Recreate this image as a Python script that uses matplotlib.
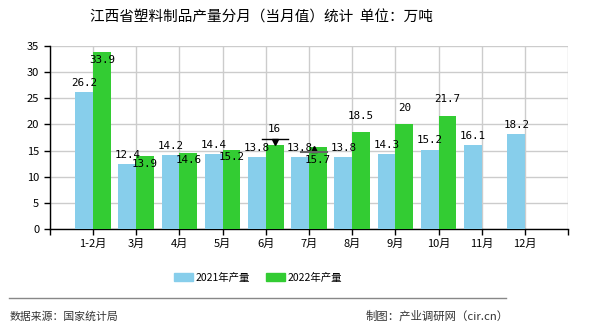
import matplotlib
matplotlib.use("Agg")
import matplotlib.pyplot as plt
from matplotlib.patches import Rectangle
from matplotlib.lines import Line2D

plt.rcParams['font.family'] = ['Noto Sans CJK SC', 'DejaVu Sans']

categories = ['1-2月', '3月', '4月', '5月', '6月', '7月', '8月', '9月', '10月', '11月', '12月']
v2021 = [26.2, 12.4, 14.2, 14.4, 13.8, 13.8, 13.8, 14.3, 15.2, 16.1, 18.2]
v2022 = [33.9, 13.9, 14.6, 15.2, 16, 15.7, 18.5, 20, 21.7, None, None]
# whether the 2022 label sits inside the bar (below its top)
inside2022 = [True, True, True, True, False, True, False, False, False, False, False]
yticks = [0, 5, 10, 15, 20, 25, 30, 35]

c2021 = '#87CEEB'
c2022 = '#33CC33'

W, H = 590, 330
fig = plt.figure(figsize=(5.9, 3.3), dpi=100)
ax = fig.add_axes([49.7 / W, 1 - 229 / H, (568.3 - 49.7) / W, (229 - 46) / H])

x = list(range(1, len(categories) + 1))
bw = 0.41
x21 = [i - bw / 2 for i in x]
x22 = [i + bw / 2 for i in x]
ax.bar(x21, v2021, width=bw, color=c2021, zorder=3)
xs22 = [xi for xi, v in zip(x22, v2022) if v is not None]
vs22 = [v for v in v2022 if v is not None]
ax.bar(xs22, vs22, width=bw, color=c2022, zorder=3)

ax.set_xlim(0, 12)
ax.set_ylim(0, 35)
ax.set_yticks(yticks)
ax.set_xticks(list(range(0, 13)))
ax.set_xticklabels([''] + categories + [''])
ax.grid(True, color='#cccccc', linewidth=1, zorder=0)
for s in ['top', 'right']:
    ax.spines[s].set_visible(False)
for s in ['left', 'bottom']:
    ax.spines[s].set_color('black')
    ax.spines[s].set_linewidth(1)
ax.tick_params(axis='both', labelsize=8, length=4, color='black', width=1)
ax.tick_params(axis='x', pad=3)

mono = ['DejaVu Sans Mono']
for xi, v in zip(x21, v2021):
    ax.annotate(f'{v:g}', (xi, v), xytext=(0, 3), textcoords='offset points',
                ha='center', va='bottom', fontsize=7.8, family=mono, zorder=5)
for k, (xi, v, ins) in enumerate(zip(x22, v2022, inside2022)):
    if v is None:
        continue
    if ins:
        off = -6 if k == 5 else -2
        ax.annotate(f'{v:g}', (xi, v), xytext=(0, off), textcoords='offset points',
                    ha='center', va='top', fontsize=7.8, family=mono, zorder=5)
    else:
        ax.annotate(f'{v:g}', (xi, v), xytext=(0, 8), textcoords='offset points',
                    ha='center', va='bottom', fontsize=7.8, family=mono, zorder=5)

# small markers on 6月 and 7月
ax.plot([x22[4]], [v2022[4] + 0.7], marker='v', color='black', markersize=5, zorder=6)
ax.plot([x22[4] - 0.3, x22[4] + 0.3], [v2022[4] + 1.2] * 2, color='black', lw=1, zorder=6)
ax.plot([x22[5] - 0.1], [v2022[5] - 0.4], marker='^', color='black', markersize=5, zorder=6)
ax.plot([x22[5] - 0.4, x22[5] + 0.2], [v2022[5] - 0.9] * 2, color='#666666', lw=1.5, zorder=6)

fig.text(261 / W, 1 - 18 / H, '江西省塑料制品产量分月（当月值）统计  单位：万吨',
         ha='center', va='center', fontsize=10.5)

# legend
handles = [Rectangle((0, 0), 1, 1, color=c2021), Rectangle((0, 0), 1, 1, color=c2022)]
fig.legend(handles, ['2021年产量', '2022年产量'], loc='center',
           bbox_to_anchor=(258 / W, 1 - 277.5 / H), ncol=2, frameon=False,
           fontsize=7.5, handlelength=1.8, handleheight=0.85, columnspacing=1.5,
           handletextpad=0.3, borderpad=0.2)

fig.add_artist(Line2D([9 / W, 506 / W], [1 - 298 / H] * 2, color='#888888', lw=1))
fig.text(10 / W, 1 - 316.5 / H, '数据来源：国家统计局', ha='left', va='center',
         fontsize=7.8, color='#333333')
fig.text(509 / W, 1 - 316.5 / H, '制图：产业调研网（cir.cn）', ha='right', va='center',
         fontsize=8.2, color='#333333')

fig.savefig('out.png', dpi=100)
